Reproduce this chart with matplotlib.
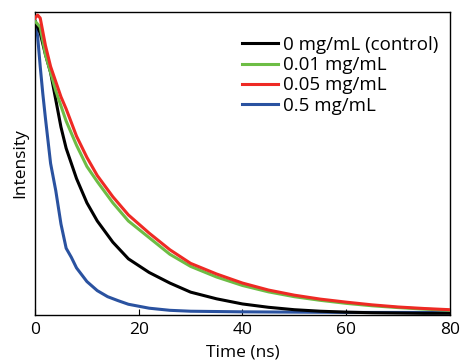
import matplotlib
matplotlib.use("Agg")
import matplotlib.pyplot as plt

# normalized decay curves (time in ns)
t_red = [0, 0.5, 1, 2, 3, 4, 5, 6, 8, 10, 12, 15, 18, 22, 26, 30, 35, 40, 45, 50, 55, 60, 65, 70, 75, 80]
i_red = [0.98, 0.99, 0.98, 0.89, 0.82, 0.77, 0.72, 0.68, 0.59, 0.52, 0.46, 0.39, 0.33, 0.27, 0.215, 0.17, 0.135,
         0.105, 0.082, 0.065, 0.052, 0.042, 0.033, 0.026, 0.021, 0.017]

t_green = [0, 1, 2, 3, 4, 5, 6, 8, 10, 12, 15, 18, 22, 26, 30, 35, 40, 45, 50, 55, 60, 65, 70, 75, 80]
i_green = [0.97, 0.95, 0.86, 0.80, 0.74, 0.69, 0.64, 0.56, 0.49, 0.44, 0.37, 0.31, 0.255, 0.20, 0.16, 0.125,
           0.097, 0.076, 0.06, 0.048, 0.038, 0.03, 0.024, 0.019, 0.015]

t_black = [0, 1, 2, 3, 4, 5, 6, 7, 8, 10, 12, 15, 18, 22, 26, 30, 35, 40, 45, 50, 55, 60, 65, 70, 75, 80]
i_black = [0.97, 0.93, 0.86, 0.80, 0.71, 0.62, 0.55, 0.50, 0.45, 0.37, 0.31, 0.24, 0.185, 0.14, 0.105, 0.075,
           0.053, 0.036, 0.025, 0.017, 0.012, 0.009, 0.007, 0.006, 0.005, 0.005]

t_blue = [0, 0.5, 1, 1.5, 2, 3, 4, 5, 6, 7, 8, 10, 12, 14, 16, 18, 22, 26, 30, 40, 50, 60, 70, 80]
i_blue = [0.97, 0.92, 0.82, 0.73, 0.65, 0.50, 0.41, 0.30, 0.22, 0.19, 0.155, 0.11, 0.08, 0.06, 0.047, 0.035,
          0.022, 0.015, 0.012, 0.01, 0.009, 0.008, 0.008, 0.008]

labels = ["0 mg/mL (control)", "0.01 mg/mL", "0.05 mg/mL", "0.5 mg/mL"]
x_ticks = [0, 20, 40, 60, 80]

plt.rcParams['font.family'] = ['Open Sans', 'DejaVu Sans']

fig = plt.figure(figsize=(4.61, 3.64), dpi=100)
ax = fig.add_axes([0.076, 0.135, 0.9, 0.832])

lb, = ax.plot(t_blue, i_blue, color="#2a52a0", lw=2.2, zorder=2)
lk, = ax.plot(t_black, i_black, color="black", lw=2.2, zorder=3)
lg, = ax.plot(t_green, i_green, color="#6dbd45", lw=2.2, zorder=4)
lr, = ax.plot(t_red, i_red, color="#ee2a24", lw=2.2, zorder=5)

ax.set_xlim(0, 80)
ax.set_ylim(0, 1.0)
ax.set_xticks(x_ticks)
ax.set_yticks([])
ax.tick_params(axis="x", direction="in", length=4, labelsize=12.5, pad=5)
ax.set_xlabel("Time (ns)", fontsize=12.5, labelpad=5)
ax.set_ylabel("Intensity", fontsize=12.5, labelpad=5)
for s in ax.spines.values():
    s.set_linewidth(1.0)

ax.legend([lk, lg, lr, lb], labels, loc="upper right", frameon=False, fontsize=13.5,
          handlelength=1.9, handletextpad=0.3, labelspacing=0.12,
          bbox_to_anchor=(1.0, 0.958), borderaxespad=0.2)

fig.savefig("out.png", dpi=100)
